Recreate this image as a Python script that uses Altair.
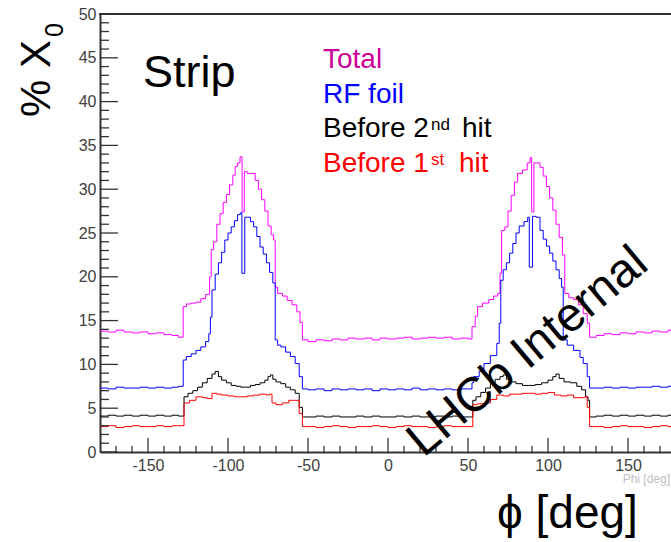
import altair as alt
import pandas as pd

# ---------------- data ----------------
phi_left = [-180, -175, -170, -165, -160, -155, -150, -145, -140, -135, -131]
phi_mid = [-50, -45, -40, -35, -30, -25, -20, -15, -10, -5, 0, 5, 10, 15, 20, 25, 30, 35, 40, 45, 50]
phi_right = [130, 135, 140, 145, 150, 155, 160, 165, 170, 175, 180]

# Total
phi_total_p1 = [-128, -126, -123, -120, -117, -114, -111.5, -110.5, -109, -107, -105, -103, -101, -99, -97, -95.5,
                -94, -92.5, -91.2, -89.8, -88, -85, -83, -81, -79, -77, -75, -73, -71.5, -70.5, -69, -66, -63, -60,
                -57, -55, -53.5]
phi_total_p2 = [52.5, 54.5, 56, 59, 63, 66, 68.5, 70, 71, 73, 75, 77, 79, 81, 84, 87, 88.8, 89.8, 91.2, 93, 95, 97,
                99, 101, 103, 105, 107, 109, 110.5, 113, 116, 119, 122, 124.5, 126]
total = [13.8, 13.7, 13.9, 13.7, 13.6, 13.7, 13.5, 13.6, 13.4, 13.3, 13.1,
         16.6, 16.9, 17.0, 17.1, 17.5, 18.0, 20.0, 23.1, 24.0, 26.0, 27.2, 28.5, 29.4, 30.5, 31.6, 32.6, 33.0, 33.7,
         27.4, 32.0, 31.8, 31.8, 31.0, 30.0, 28.8, 27.5, 25.8, 24.8, 24.2, 18.8, 18.1, 17.8, 17.3, 16.8, 16.0, 14.8, 12.8,
         12.6, 12.8, 12.7, 12.9, 12.8, 13.0, 12.9, 13.0, 12.8, 13.0, 12.9, 13.0, 13.1, 12.9, 13.0, 13.1, 13.0, 13.1,
         12.9, 13.0, 12.9,
         14.3, 15.5, 16.6, 17.0, 17.4, 17.8, 18.1, 20.4, 25.3, 25.7, 27.5, 29.3, 30.8, 31.8, 32.2, 33.0, 33.6, 27.4,
         33.0, 33.0, 32.5, 31.5, 30.3, 29.0, 27.6, 26.0, 24.5, 22.5, 18.1, 17.6, 17.4, 16.8, 15.8, 14.7, 13.1,
         13.3, 13.5, 13.4, 13.6, 13.5, 13.7, 13.6, 13.8, 13.7, 13.9, 13.9]

# RF foil
phi_rf_p1 = [-128, -126, -123, -120, -117, -114, -112, -111, -110, -108, -106, -104, -102, -100, -98, -96, -94, -92.3,
             -91.3, -89.5, -88, -86, -84, -82, -80, -78, -76, -74, -72, -70.5, -69, -67, -64, -61, -58, -55.5, -53.5]
phi_rf_p2 = [52.5, 53.5, 57, 60, 64, 68, 69.5, 70.5, 72, 74, 76, 78, 80, 82, 85, 87.3, 88.3, 90.3, 92.5, 95, 97, 99,
             101, 103, 105, 107, 108.5, 109.5, 112, 116, 120, 122, 124.5, 126]
rf = [7.3, 7.2, 7.4, 7.3, 7.3, 7.4, 7.3, 7.4, 7.3, 7.4, 7.5,
      10.5, 10.9, 11.2, 11.6, 12.0, 12.6, 13.5, 15.4, 18.5, 20.3, 21.6, 22.8, 24.2, 25.0, 25.7, 26.4, 27.1, 27.3, 20.4,
      26.8, 26.8, 26.3, 25.7, 24.6, 23.4, 22.6, 21.6, 20.5, 19.3, 12.8, 12.2, 12.0, 11.4, 10.9, 10.1, 8.6, 7.2,
      7.1, 7.2, 7.0, 7.2, 7.1, 7.2, 7.1, 7.2, 7.0, 7.2, 7.1, 7.2, 7.1, 7.3, 7.1, 7.2, 7.1, 7.2, 7.1, 7.2, 7.2,
      7.9, 8.6, 9.2, 10.1, 11.0, 12.4, 14.7, 19.6, 20.8, 21.6, 22.7, 23.8, 25.0, 25.8, 26.3, 26.8, 21.1, 26.9, 26.8,
      25.3, 24.3, 23.5, 22.7, 21.8, 20.8, 19.8, 18.8, 12.8, 12.2, 11.6, 10.8, 10.1, 8.6, 7.3,
      7.3, 7.4, 7.3, 7.4, 7.3, 7.4, 7.4, 7.5, 7.4, 7.5, 7.5]

# Before 2nd hit
phi_b2_p1 = [-127.5, -125, -122, -119, -116, -113, -110, -108, -106, -104, -101, -98, -95, -92, -89, -86, -83, -80,
             -77, -75, -73.5, -72, -70, -67, -64, -61, -58, -55.5, -53.5]
phi_b2_p2 = [53, 55, 58, 61, 64, 67, 70, 72, 74, 77, 80, 84, 88, 92, 96, 100, 103, 105, 107, 110, 114, 118, 121,
             123.5, 125, 126]
before2 = [4.1, 4.2, 4.1, 4.2, 4.1, 4.2, 4.1, 4.2, 4.1, 4.2, 4.1,
           6.3, 6.7, 7.0, 7.4, 7.9, 8.4, 8.9, 9.2, 8.6, 8.2, 7.9, 7.6, 7.5, 7.4, 7.4, 7.6, 7.7, 7.9, 8.2, 8.6, 8.8,
           8.3, 8.0, 7.8, 7.4, 7.1, 6.7, 5.1, 4.0,
           4.0, 4.1, 4.0, 4.1, 4.0, 4.0, 4.1, 4.0, 4.1, 4.0, 4.0, 4.1, 4.0, 4.1, 4.0, 4.0, 4.1, 4.0, 4.1, 4.0, 4.0,
           5.9, 6.3, 6.8, 7.3, 7.9, 8.3, 8.6, 8.8, 8.3, 8.0, 7.8, 7.6, 7.6, 7.7, 7.9, 8.2, 8.6, 8.9, 8.4, 8.0, 7.9,
           7.5, 7.1, 6.3, 5.9, 4.0,
           4.1, 4.2, 4.1, 4.2, 4.1, 4.2, 4.1, 4.2, 4.1, 4.2, 4.2]

# Before 1st hit
phi_b1_p1 = [-127.5, -124, -120, -116, -113, -110, -107, -104, -100, -96, -92, -88, -84, -80, -76, -74, -72.5, -70,
             -66, -62, -58, -55.5, -53.5]
phi_b1_p2 = [53, 56, 60, 64, 68, 72, 76, 80, 84, 88, 92, 96, 100, 104, 108, 112, 116, 120, 123, 124.5, 126]
before1 = [2.9, 3.0, 2.8, 2.9, 3.0, 2.9, 2.9, 3.0, 2.9, 3.0, 3.0,
           5.6, 5.9, 6.3, 6.2, 6.1, 6.7, 6.6, 6.5, 6.4, 6.3, 6.3, 6.4, 6.5, 6.6, 6.5, 6.6, 5.6, 5.4, 5.6, 5.9, 5.9,
           4.4, 2.9,
           2.9, 2.8, 2.9, 3.0, 2.9, 2.8, 2.9, 2.9, 3.0, 2.9, 2.8, 2.9, 3.0, 2.9, 2.9, 2.8, 2.9, 3.0, 2.9, 2.9, 2.9,
           5.4, 5.5, 5.6, 6.0, 6.5, 6.4, 6.6, 6.6, 6.7, 6.7, 6.6, 6.7, 6.8, 6.5, 6.4, 6.5, 6.2, 6.2, 6.3, 5.1, 2.9,
           2.9, 2.8, 2.9, 3.0, 2.9, 2.9, 2.8, 2.9, 3.0, 2.9, 2.9]

series_names = ["Total", "RF foil", "Before 2nd hit", "Before 1st hit"]
series_colors = ["#ff00ff", "#0000ff", "#000000", "#ff0000"]

x_major = [-150, -100, -50, 0, 50, 100, 150]
x_minor = [-170, -160, -140, -130, -120, -110, -90, -80, -70, -60, -40, -30, -20, -10,
           10, 20, 30, 40, 60, 70, 80, 90, 110, 120, 130, 140, 160, 170]
y_major = [0, 5, 10, 15, 20, 25, 30, 35, 40, 45, 50]
y_minor = [v for v in range(1, 50) if v % 5 != 0]

# ---------------- build table ----------------
rows = []
series_data = [
    ("Total", phi_left + phi_total_p1 + phi_mid + phi_total_p2 + phi_right, total),
    ("RF foil", phi_left + phi_rf_p1 + phi_mid + phi_rf_p2 + phi_right, rf),
    ("Before 2nd hit", phi_left + phi_b2_p1 + phi_mid + phi_b2_p2 + phi_right, before2),
    ("Before 1st hit", phi_left + phi_b1_p1 + phi_mid + phi_b1_p2 + phi_right, before1),
]
for name, xs, vs in series_data:
    assert len(xs) == len(vs), (name, len(xs), len(vs))
    for i, (p, v) in enumerate(zip(xs, vs)):
        rows.append({"series": name, "phi": p, "value": v, "order": i})
df = pd.DataFrame(rows)

W, H = 571, 438
FONT = "Liberation Sans"
AXC = "#333333"
xscale = alt.Scale(domain=[-180, 176.875], nice=False, zero=False)
yscale = alt.Scale(domain=[0, 50], nice=False, zero=False)
xax = alt.Axis(values=x_major, ticks=False, grid=False, domainColor=AXC, domainWidth=2,
               labelFont=FONT, labelFontSize=16, labelColor="#404040", labelPadding=5,
               labelExpr="'' + datum.value", labelFlush=False, title=None)
yax = alt.Axis(values=y_major, ticks=False, grid=False, domainColor=AXC, domainWidth=2,
               labelFont=FONT, labelFontSize=16, labelColor="#404040", labelPadding=4,
               labelExpr="'' + datum.value", labelFlush=False, title=None)

lines = alt.Chart(df).mark_line(interpolate="step-after", strokeWidth=1, clip=True).encode(
    x=alt.X("phi:Q", scale=xscale, axis=xax),
    y=alt.Y("value:Q", scale=yscale, axis=yax),
    color=alt.Color("series:N", scale=alt.Scale(domain=series_names, range=series_colors), legend=None),
    detail="series:N",
    order="order:Q",
)

ymaj = alt.Chart(pd.DataFrame({"value": y_major})).mark_rule(color=AXC, strokeWidth=1.3).encode(
    y=alt.Y("value:Q", scale=yscale, axis=yax), x=alt.value(0), x2=alt.value(18))
ymin = alt.Chart(pd.DataFrame({"value": y_minor})).mark_rule(color=AXC, strokeWidth=1.3).encode(
    y=alt.Y("value:Q", scale=yscale, axis=yax), x=alt.value(0), x2=alt.value(9))
xmaj = alt.Chart(pd.DataFrame({"phi": x_major})).mark_rule(color=AXC, strokeWidth=1.3).encode(
    x=alt.X("phi:Q", scale=xscale, axis=xax), y=alt.value(H), y2=alt.value(H - 14))
xmin = alt.Chart(pd.DataFrame({"phi": x_minor})).mark_rule(color=AXC, strokeWidth=1.3).encode(
    x=alt.X("phi:Q", scale=xscale, axis=xax), y=alt.value(H), y2=alt.value(H - 6))
top = alt.Chart(pd.DataFrame({"a": [0]})).mark_rule(color=AXC, strokeWidth=2).encode(
    y=alt.value(0), x=alt.value(-1), x2=alt.value(W + 10))


def label(text, x, y, size, color="black", angle=0, align="left", baseline="alphabetic"):
    mk = dict(text=text, font=FONT, fontSize=size, color=color, align=align, baseline=baseline)
    if angle:
        mk["angle"] = angle
    return alt.Chart(pd.DataFrame({"a": [0]})).mark_text(**mk).encode(x=alt.value(x), y=alt.value(y))


texts = [
    label("Strip", 43, 73, 45),
    label("Total", 223, 54, 28, "#cc0099"),
    label("RF foil", 223, 89, 28, "#0000ff"),
    label("Before 2", 223, 123, 28, "black"),
    label("nd", 331, 116, 17, "black"),
    label("hit", 362, 123, 28, "black"),
    label("Before 1", 223, 158, 28, "#ff0000"),
    label("st", 331, 151, 17, "#ff0000"),
    label("hit", 359, 158, 28, "#ff0000"),
    label("LHCb Internal", 428, 338, 48, "black", angle=320, align="center", baseline="middle"),
    label("Phi [deg]", W - 1, 465, 12, "#c0c0c0", align="right", baseline="middle"),
    label("\u03d5 [deg]", 397, 514, 46, "black"),
    label("% X", -50, 103, 42, "black", angle=270),
    label("0", -37, 23, 25, "black", angle=270),
]

chart = alt.layer(lines, ymaj, ymin, xmaj, xmin, top, *texts).properties(
    width=W, height=H,
    autosize=alt.AutoSizeParams(type="none"),
    padding={"left": 100, "top": 14, "right": 0, "bottom": 86},
    background="white",
).configure_view(stroke=None)

chart.save("out.html", embed_options={"renderer": "svg", "actions": False})
